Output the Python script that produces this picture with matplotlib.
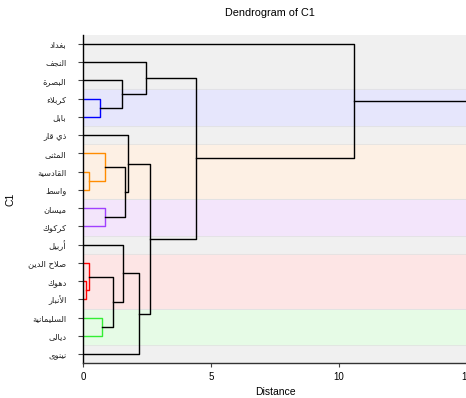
import numpy as np
import matplotlib
matplotlib.use("Agg")
import matplotlib.pyplot as plt

# leaves in the order shown, top to bottom
labels = ["بغداد", "النجف", "البصرة", "كربلاء", "بابل", "ذي قار", "المثنى",
          "القادسية", "واسط", "ميسان", "كركوك", "أربيل", "صلاح الدين", "دهوك",
          "الأنبار", "السليمانية", "ديالى", "نينوى"]

# linkage rows: left child, right child, distance (new node ids start at 18)
left = [13, 7, 12, 3, 15, 6, 9, 20, 2, 11, 23, 5, 27, 1, 29, 31, 0]
right = [14, 8, 18, 4, 16, 19, 10, 22, 21, 25, 24, 28, 17, 26, 30, 32, 33]
dist = [0.13, 0.25, 0.25, 0.68, 0.73, 0.86, 0.86, 1.18, 1.51, 1.57, 1.65,
        1.77, 2.20, 2.45, 2.63, 4.41, 10.59]

# cluster colours (node id -> colour), everything else black
cluster_nodes = {18: "red", 20: "red", 19: "darkorange", 23: "darkorange",
                 21: "blue", 22: "#33ee33", 24: "#a040ff"}
# background bands: first leaf, last leaf, fill
bands = [(3, 4, "#e6e6fc"), (6, 8, "#fdf0e4"), (9, 10, "#f3e5fb"),
         (12, 14, "#fde5e5"), (15, 16, "#e6fbe6")]

# --- minimal arabic shaping (presentation forms + right-to-left) ---
DUAL = "ئبتثجحخسشصضطظعغفقكلمنهي"
BASE = {"ء": 0xFE80, "آ": 0xFE81, "أ": 0xFE83, "ؤ": 0xFE85, "إ": 0xFE87,
        "ئ": 0xFE89, "ا": 0xFE8D, "ب": 0xFE8F, "ة": 0xFE93, "ت": 0xFE95,
        "ث": 0xFE99, "ج": 0xFE9D, "ح": 0xFEA1, "خ": 0xFEA5, "د": 0xFEA9,
        "ذ": 0xFEAB, "ر": 0xFEAD, "ز": 0xFEAF, "س": 0xFEB1, "ش": 0xFEB5,
        "ص": 0xFEB9, "ض": 0xFEBD, "ط": 0xFEC1, "ظ": 0xFEC5, "ع": 0xFEC9,
        "غ": 0xFECD, "ف": 0xFED1, "ق": 0xFED5, "ك": 0xFED9, "ل": 0xFEDD,
        "م": 0xFEE1, "ن": 0xFEE5, "ه": 0xFEE9, "و": 0xFEED, "ى": 0xFEEF,
        "ي": 0xFEF1}
LAM_ALEF = {"آ": 0xFEF5, "أ": 0xFEF7, "إ": 0xFEF9, "ا": 0xFEFB}


def shape(word):
    out = []
    i = 0
    prev_joins = False
    while i < len(word):
        ch = word[i]
        nxt = word[i + 1] if i + 1 < len(word) else ""
        if ch == "ل" and nxt in LAM_ALEF:
            out.append(chr(LAM_ALEF[nxt] + (1 if prev_joins else 0)))
            prev_joins = False
            i += 2
            continue
        if ch not in BASE or ch == "ء":
            out.append(chr(BASE[ch]) if ch == "ء" else ch)
            prev_joins = False
            i += 1
            continue
        joins_next = ch in DUAL and nxt in BASE and nxt != "ء"
        b = BASE[ch]
        if prev_joins and joins_next:
            b += 3
        elif prev_joins:
            b += 1
        elif joins_next:
            b += 2
        out.append(chr(b))
        prev_joins = ch in DUAL
        i += 1
    return "".join(reversed(out))


# --- dendrogram coordinates ---
n = len(labels)
pos = {i: 10 * i + 5 for i in range(n)}
hgt = {i: 0.0 for i in range(n)}

fig = plt.figure(figsize=(4.66, 3.98), dpi=100)
ax = fig.add_axes([83 / 466, 34.7 / 398, 384 / 466, 328.6 / 398])
ax.set_facecolor("#f0f0f0")

for a, b, c in bands:
    ax.axhspan(10 * a, 10 * (b + 1), color=c, lw=0.8, zorder=0)
    ax.axhline(10 * a, color="#e2e2e2", lw=0.6, zorder=0.5)
    ax.axhline(10 * (b + 1), color="#e2e2e2", lw=0.6, zorder=0.5)

for k, (l, r, d) in enumerate(zip(left, right, dist)):
    node = n + k
    col = cluster_nodes.get(node, "black")
    ax.plot([hgt[l], d, d, hgt[r]], [pos[l], pos[l], pos[r], pos[r]],
            color=col, lw=1.0, zorder=2)
    pos[node] = (pos[l] + pos[r]) / 2
    hgt[node] = d

root = n + len(dist) - 1
ax.plot([hgt[root], 20], [pos[root], pos[root]], color="black", lw=1.0, zorder=2)

ax.set_xlim(0, 15)
ax.set_ylim(10 * n, 0)
ax.set_yticks([10 * i + 5 for i in range(n)])
ax.set_yticklabels([shape(s) for s in labels], fontsize=6, family=["DejaVu Sans"],
                   color="#222222")
ax.set_xticks([0, 5, 10, 15])
ax.set_xticklabels(["0", "5", "10", "15"], fontsize=7, family=["Liberation Sans"])
ax.tick_params(axis="y", length=3.5, width=0.8, pad=8.5, color="#444444")
ax.tick_params(axis="x", length=3, width=0.8, pad=3, color="#444444")

for s in ["top", "right"]:
    ax.spines[s].set_visible(False)
ax.spines["left"].set_linewidth(1.0)
ax.spines["bottom"].set_linewidth(1.0)
ax.spines["bottom"].set_color("#333333")

ax.set_xlabel("Distance", fontsize=7.5, family=["Liberation Sans"], labelpad=4)
ax.set_ylabel("C1", fontsize=7.5, family=["Liberation Sans"])
ax.yaxis.set_label_coords(-68 / 384, 0.5)
fig.text(270 / 466, 1 - 13 / 398, "Dendrogram of C1", ha="center", va="center",
         fontsize=7.8, family=["Liberation Sans"])

fig.savefig("out.png", dpi=100)
